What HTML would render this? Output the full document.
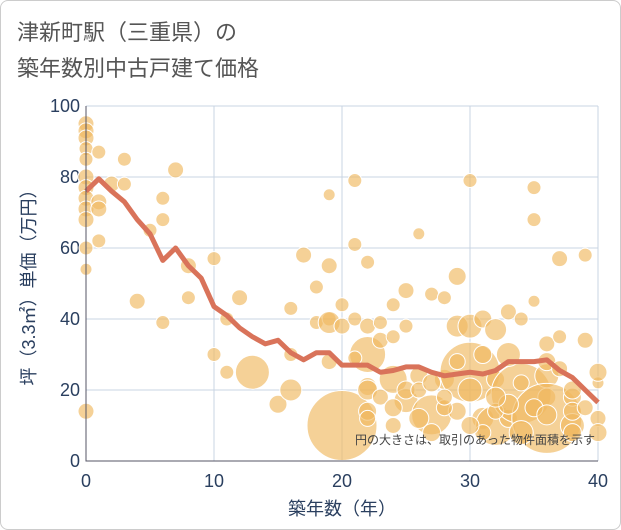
<!DOCTYPE html>
<html><head><meta charset="utf-8"><style>
body{margin:0;background:#fff;font-family:"Liberation Sans","Noto Sans CJK JP",sans-serif}
#wrap{position:relative;width:621px;height:530px;box-sizing:border-box;border:1px solid #ccc;border-radius:8px;overflow:hidden}
#title{position:absolute;left:16px;top:14px;font-size:22px;line-height:36px;color:#555;font-family:"Liberation Sans","Noto Sans CJK JP",sans-serif}
svg text{font-family:"Liberation Sans","Noto Sans CJK JP",sans-serif}
</style></head><body>
<div id="wrap">
<div id="title">津新町駅（三重県）の<br>築年数別中古戸建て価格</div>
<svg id="chart" width="621" height="530" style="position:absolute;left:0;top:0"></svg>
</div>
<script>
const xTicks=[0,10,20,30,40];
const yTicks=[0,20,40,60,80,100];
const avgAges=[0,1,2,3,4,5,6,7,8,9,10,11,12,13,14,15,16,17,18,19,20,21,22,23,24,25,26,27,28,29,30,31,32,33,34,35,36,37,38,39,40];
const avgPrices=[76,79.5,76,73,68,64,56.5,60,55,51.5,43.5,41,37.5,35,33,34,30.5,28.5,30.5,30.5,27,27,27,25,25.5,26.5,26.5,25,24,24.5,25,24.5,25.5,28,28,28,28.5,25.5,23.5,20,16.5];
const bubbleAges=[0,0,0,0,0,0,0,0,0,0,0,0,0,1,1,1,1,2,3,3,4,5,6,6,6,7,8,8,10,10,11,11,12,13,15,16,16,16,17,18,18,19,19,19,19,20,20,20,21,21,21,22,22,22,22,22,23,23,24,24,24,25,25,25,26,26,27,27,28,28,29,29,29,30,30,30,30,31,31,32,32,32,33,33,34,34,35,35,35,36,36,36,36,37,37,38,38,39,39,40,40,40,40,19,21,25,31,33,36,38,22,23,24,26,27,28,29,31,32,33,34,35,37,38,39,26,28,30,32,34,36,38,22,24,27];
const bubblePrices=[95,93,91,88,85,80,77,74,71,68,60,54,14,87,73,71,62,78,85,78,45,65,74,68,39,82,55,46,57,30,40,25,46,25,16,43,30,20,58,49,39,40,39,55,28,44,38,10,79,61,40,56,38,30,21,14,39,34,44,35,23,48,38,17,64,24,47,13,46,23,52,38,14,79,38,25,20,40,12,37,23,10,42,12,40,19,77,68,45,33,24,18,12,57,35,18,10,58,34,22,12,8,25,75,29,20,8,30,28,20,20,18,15,20,22,15,28,30,14,16,22,15,26,14,15,12,18,10,18,8,13,8,12,10,8];
const bubbleSizes=[8,8,8,7,7,8,8,8,8,8,7,6,8,7,8,8,7,8,7,7,8,7,7,7,7,8,8,7,7,7,7,7,8,17,9,7,7,11,8,7,7,7,11,8,8,7,8,35,7,7,7,7,8,18,9,9,7,8,7,7,14,8,7,12,6,9,7,20,7,10,9,11,9,7,12,30,12,9,11,11,9,20,8,9,7,30,7,7,6,8,12,9,35,8,7,9,12,7,8,6,8,9,9,6,7,9,8,12,9,9,10,8,9,8,9,8,8,9,8,10,8,9,8,9,8,10,8,9,10,12,10,9,8,8,9];
const NS='http://www.w3.org/2000/svg';
const svg=document.getElementById('chart');
const L=85,R=597,T=105,B=460;
function xs(v){return L+(v-0)/40*(R-L);}
function ys(v){return B-(v-0)/100*(B-T);}
function mk(tag,attrs){const e=document.createElementNS(NS,tag);for(const k in attrs)e.setAttribute(k,attrs[k]);svg.appendChild(e);return e;}
for(const t of xTicks){
 const g=mk('line',{x1:xs(t),x2:xs(t),y1:T,y2:B,stroke:'#c8d4e3','stroke-width':1});
 
 
 const tx=mk('text',{x:xs(t),y:486,'text-anchor':'middle','font-size':18,fill:'#2a3f5f'});
 tx.textContent=t;
 
 
}
for(const t of yTicks){
 const g=mk('line',{x1:L,x2:R,y1:ys(t),y2:ys(t),stroke:'#c8d4e3','stroke-width':1});
 
 
 const tx=mk('text',{x:79,y:ys(t)+6,'text-anchor':'end','font-size':18,fill:'#2a3f5f'});
 tx.textContent=t;
 
 
}
for(let i=0;i<bubbleAges.length;i++){
 const c=mk('circle',{cx:xs(bubbleAges[i]),cy:ys(bubblePrices[i]),r:bubbleSizes[i],fill:'#f0b860','fill-opacity':0.65,stroke:'#fff','stroke-width':1});
 
 
}
const pts=avgAges.map((a,i)=>xs(a)+','+ys(avgPrices[i])).join(' ');
const pl=mk('polyline',{points:pts,fill:'none',stroke:'#d9735a','stroke-width':5,'stroke-linejoin':'round'});


const ax=mk('path',{d:`M${L},${T}V${B}H${R}`,fill:'none',stroke:'#556','stroke-width':1});


const note=mk('text',{x:594,y:443,'text-anchor':'end','font-size':12,fill:'#444'});
note.textContent='円の大きさは、取引のあった物件面積を示す';


const xt=mk('text',{x:341,y:514,'text-anchor':'middle','font-size':18,fill:'#2a3f5f'});
xt.textContent='築年数（年）';


const yt=mk('text',{x:0,y:0,'text-anchor':'middle','font-size':18,fill:'#2a3f5f',transform:'translate(34,282) rotate(-90)'});
yt.textContent='坪（3.3㎡）単価（万円）';


</script>
</body></html>
